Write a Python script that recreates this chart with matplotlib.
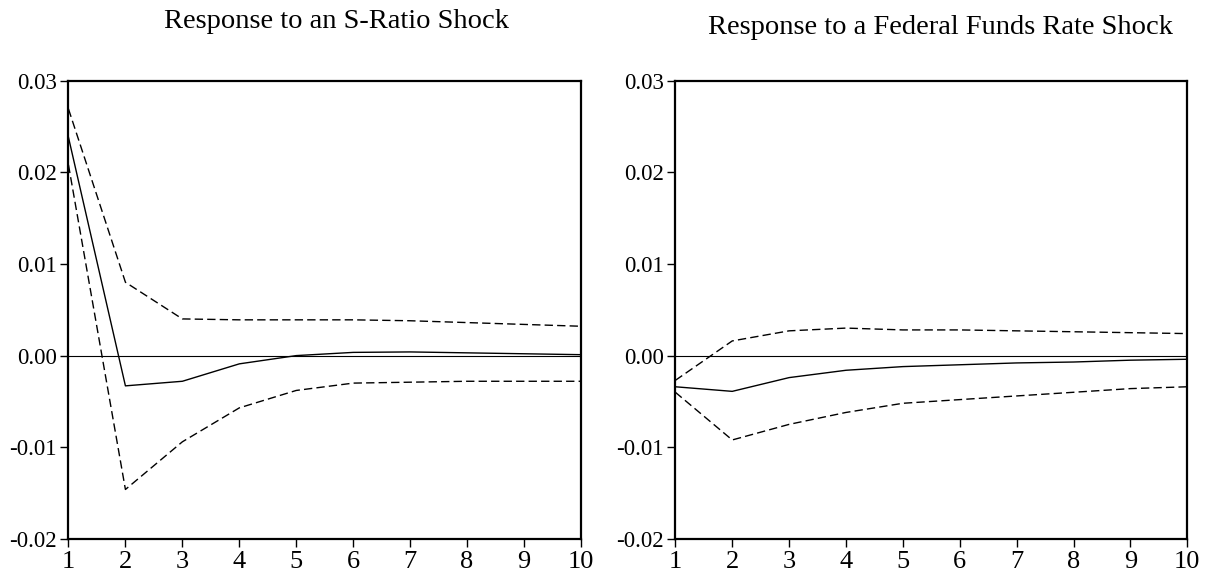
#!/usr/bin/env python
# Impulse responses (EViews style) to an S-Ratio shock and a Federal Funds Rate shock.

import matplotlib
matplotlib.use('Agg')
import matplotlib.pyplot as plt
import numpy as np

font = 'Liberation Serif'

periods = np.arange(1, 11)

# Response to an S-Ratio shock
sratio_resp = [0.0238, -0.0033, -0.0028, -0.0009, 0.0000, 0.00035, 0.0004, 0.0003, 0.0002, 0.0001]
sratio_upper = [0.0269, 0.0080, 0.0040, 0.0039, 0.0039, 0.0039, 0.0038, 0.0036, 0.0034, 0.0032]
sratio_lower = [0.0208, -0.0146, -0.0094, -0.0057, -0.0038, -0.0030, -0.0029, -0.0028, -0.0028, -0.0028]

# Response to a Federal Funds Rate shock
ffr_resp = [-0.0034, -0.0039, -0.0024, -0.0016, -0.0012, -0.0010, -0.0008, -0.0007, -0.0005, -0.0004]
ffr_upper = [-0.0027, 0.0016, 0.0027, 0.0030, 0.0028, 0.0028, 0.0027, 0.0026, 0.0025, 0.0024]
ffr_lower = [-0.0040, -0.0092, -0.0075, -0.0062, -0.0052, -0.0048, -0.0044, -0.0040, -0.0036, -0.0034]

titles = ['Response to an S-Ratio Shock', 'Response to a Federal Funds Rate Shock']
yticks = [-0.02, -0.01, 0.00, 0.01, 0.02, 0.03]
ytick_labels = ['-0.02', '-0.01', '0.00', '0.01', '0.02', '0.03']

plt.rcParams['font.family'] = font

fig = plt.figure(figsize=(12.14, 5.8), dpi=100)
ax1 = fig.add_axes([0.0564, 0.0707, 0.4222, 0.7905])
ax2 = fig.add_axes([0.5563, 0.0707, 0.4217, 0.7905])

panels = [(ax1, sratio_resp, sratio_upper, sratio_lower),
          (ax2, ffr_resp, ffr_upper, ffr_lower)]

for ax, resp, up, lo in panels:
    ax.axhline(0, color='k', linewidth=0.8)
    ax.plot(periods, resp, color='k', linewidth=1.0)
    ax.plot(periods, up, color='k', linewidth=1.0, dashes=(6, 3))
    ax.plot(periods, lo, color='k', linewidth=1.0, dashes=(6, 3))
    ax.set_xlim(1, 10)
    ax.set_ylim(-0.02, 0.03)
    ax.set_xticks(periods)
    ax.set_yticks(yticks)
    ax.set_yticklabels(ytick_labels)
    for s in ax.spines.values():
        s.set_linewidth(1.6)
    ax.tick_params(axis='both', direction='out', width=1.0)
    ax.tick_params(axis='y', length=5.5, pad=3, labelsize=16.5)
    ax.tick_params(axis='x', length=6, pad=2.5, labelsize=19)

fig.text(336 / 1214, 1 - 28 / 580, titles[0], ha='center', va='baseline', fontsize=20.5)
fig.text(940 / 1214, 1 - 34 / 580, titles[1], ha='center', va='baseline', fontsize=20.5)

fig.savefig('out.png', dpi=100)
